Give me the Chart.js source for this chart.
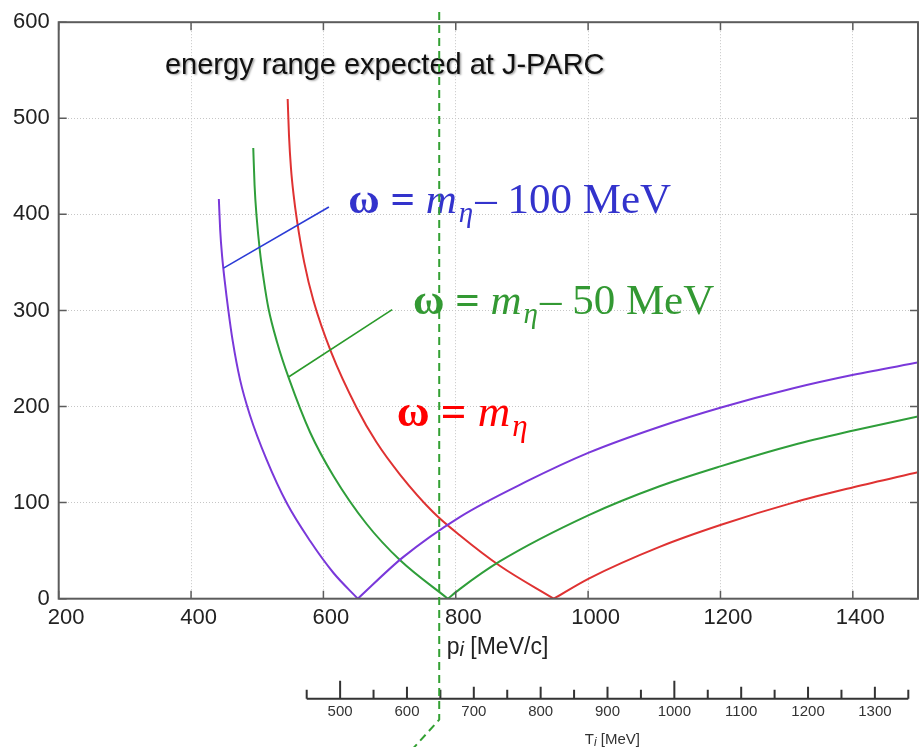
<!DOCTYPE html>
<html>
<head>
<meta charset="utf-8">
<script src="https://cdn.jsdelivr.net/npm/chart.js@4.4.1/dist/chart.umd.min.js"></script>
<style>
  html, body { margin: 0; padding: 0; background: #fff; }
  #wrap { width: 919px; height: 747px; }
</style>
</head>
<body>
<div id="wrap"><canvas id="chart"></canvas></div>
<script>
const xTicks = [200, 400, 600, 800, 1000, 1200, 1400];
const yTicks = [0, 100, 200, 300, 400, 500, 600];
const tTicks = [450, 500, 550, 600, 650, 700, 750, 800, 850, 900, 950, 1000, 1050, 1100, 1150, 1200, 1250, 1300, 1350];

// omega = m_eta - 100 MeV (purple)
const purpleLeftP = [442, 444, 447, 451, 456, 463, 474, 489, 514, 545, 580, 615, 652];
const purpleLeftQ = [416, 384, 356, 330, 302, 268, 228, 191, 145, 99, 60, 27, 0];
const purpleRightP = [652, 720, 806, 907, 1001, 1108, 1201, 1310, 1401, 1500];
const purpleRightQ = [0, 43, 85, 122, 152, 179, 199, 219, 233, 246];

// omega = m_eta - 50 MeV (green)
const greenLeftP = [494, 496, 499, 504, 510, 517, 530, 548, 580, 615, 665, 716, 788];
const greenLeftQ = [469, 430, 398, 362, 331, 302, 267, 229, 173, 128, 78, 40, 0];
const greenRightP = [788, 806, 867, 1001, 1108, 1201, 1310, 1401, 1500];
const greenRightQ = [0, 10, 39, 87, 117, 138, 160, 175, 190];

// omega = m_eta (red)
const redLeftP = [546, 548, 551, 555, 560, 571, 585, 612, 650, 680, 716, 766, 806, 867, 948];
const redLeftQ = [520, 482, 448, 420, 394, 350, 310, 256, 199, 163, 129, 90, 66, 34, 0];
const redRightP = [948, 1001, 1108, 1201, 1310, 1401, 1500];
const redRightQ = [0, 21, 54, 77, 100, 116, 132];

const jparcP = 775;   // p_i of the dashed J-PARC marker

const PURPLE = "#7a38da", GREEN = "#2f9e3a", RED = "#df3232";

function branch(ps, qs, color) {
    return {
        data: ps.map((p, i) => ({ x: p, y: qs[i] })),
        borderColor: color,
        borderWidth: 2,
        pointRadius: 0,
        cubicInterpolationMode: "monotone",
        fill: false
    };
}

function drawMath(ctx, x0, y0, size, color, tail) {
    ctx.fillStyle = color;
    ctx.textBaseline = "alphabetic";
    ctx.textAlign = "left";
    let cx = x0;
    ctx.font = `bold ${size}px "Liberation Serif"`;
    ctx.fillText("ω", cx, y0);
    cx += ctx.measureText("ω").width + size * 0.25;
    ctx.fillText("=", cx, y0);
    cx += ctx.measureText("=").width + size * 0.25;
    ctx.font = `italic ${size}px "Liberation Serif"`;
    ctx.fillText("m", cx, y0);
    cx += ctx.measureText("m").width + 2;
    ctx.font = `italic ${Math.round(size * 0.68)}px "Liberation Serif"`;
    ctx.fillText("η", cx, y0 + size * 0.22);
    cx += ctx.measureText("η").width + 2;
    if (tail) {
        ctx.font = `${size}px "Liberation Serif"`;
        ctx.fillText(tail, cx, y0);
    }
}

const overlay = {
    id: "overlay",
    afterDatasetsDraw(chart) {
        const { ctx, chartArea: a, scales: { x, y, t } } = chart;
        ctx.save();

        // frame and inward ticks
        ctx.strokeStyle = "#5c5c5c";
        ctx.lineWidth = 1.5;
        ctx.beginPath();
        xTicks.forEach(v => {
            const px = x.getPixelForValue(v);
            ctx.moveTo(px, a.top); ctx.lineTo(px, a.top + 8);
            ctx.moveTo(px, a.bottom); ctx.lineTo(px, a.bottom - 8);
        });
        yTicks.forEach(v => {
            const py = y.getPixelForValue(v);
            ctx.moveTo(a.left, py); ctx.lineTo(a.left + 8, py);
            ctx.moveTo(a.right - 1, py); ctx.lineTo(a.right - 9, py);
        });
        ctx.stroke();
        ctx.lineWidth = 2;
        ctx.strokeRect(a.left, a.top, a.right - a.left - 1, a.bottom - a.top);

        // title inside the plot
        ctx.save();
        ctx.font = '29px "Liberation Sans"';
        ctx.fillStyle = "#111";
        ctx.shadowColor = "rgba(0,0,0,0.35)";
        ctx.shadowOffsetX = 1.5;
        ctx.shadowOffsetY = 1.5;
        ctx.shadowBlur = 2;
        ctx.textBaseline = "alphabetic";
        ctx.fillText("energy range expected at J-PARC", x.getPixelForValue(360.6), y.getPixelForValue(546.3));
        ctx.restore();

        // leader lines
        ctx.lineWidth = 1.6;
        ctx.strokeStyle = "#2b3bd6";
        ctx.beginPath();
        ctx.moveTo(x.getPixelForValue(449), y.getPixelForValue(344));
        ctx.lineTo(x.getPixelForValue(608.3), y.getPixelForValue(407.6));
        ctx.stroke();
        ctx.strokeStyle = "#2a9a2a";
        ctx.beginPath();
        ctx.moveTo(x.getPixelForValue(547.9), y.getPixelForValue(231));
        ctx.lineTo(x.getPixelForValue(703.9), y.getPixelForValue(300.9));
        ctx.stroke();

        drawMath(ctx, x.getPixelForValue(637.6), y.getPixelForValue(401.4), 43, "#3333cc", "– 100 MeV");
        drawMath(ctx, x.getPixelForValue(735.4), y.getPixelForValue(296.8), 43, "#339933", "– 50 MeV");
        drawMath(ctx, x.getPixelForValue(710.7), y.getPixelForValue(179.6), 45, "#ff0000", "");

        // p_i axis title
        ctx.fillStyle = "#222";
        let cx = x.getPixelForValue(786.3);
        const py = a.bottom + 55;
        ctx.font = '23px "Liberation Sans"';
        ctx.fillText("p", cx, py);
        cx += ctx.measureText("p").width;
        ctx.font = 'italic 20px "Liberation Sans"';
        ctx.fillText("i", cx, py + 2);
        cx += ctx.measureText("i").width;
        ctx.font = '23px "Liberation Sans"';
        ctx.fillText(" [MeV/c]", cx, py);

        // T_i axis: baseline and upward ticks
        const base = t.top + 40;
        ctx.strokeStyle = "#333";
        ctx.lineWidth = 2;
        ctx.beginPath();
        ctx.moveTo(t.getPixelForValue(tTicks[0]), base);
        ctx.lineTo(t.getPixelForValue(tTicks[tTicks.length - 1]), base);
        tTicks.forEach(v => {
            const px = t.getPixelForValue(v);
            const len = v % 500 === 0 ? 18 : (v % 100 === 0 ? 12 : 9);
            ctx.moveTo(px, base); ctx.lineTo(px, base - len);
        });
        ctx.stroke();

        ctx.fillStyle = "#333";
        let tx = t.getPixelForValue(866);
        const ty = t.top + 85;
        ctx.font = '15px "Liberation Sans"';
        ctx.fillText("T", tx, ty);
        tx += ctx.measureText("T").width;
        ctx.font = 'italic 12px "Liberation Sans"';
        ctx.fillText("i", tx, ty + 2);
        tx += ctx.measureText("i").width;
        ctx.font = '15px "Liberation Sans"';
        ctx.fillText(" [MeV]", tx, ty);

        // dashed J-PARC marker
        const gx = x.getPixelForValue(jparcP);
        ctx.strokeStyle = "#33a033";
        ctx.lineWidth = 2;
        ctx.setLineDash([8, 5]);
        ctx.beginPath();
        ctx.moveTo(gx, 12);
        ctx.lineTo(gx, base + 21);
        ctx.lineTo(gx - 30, base + 54);
        ctx.stroke();

        ctx.restore();
    }
};

Chart.defaults.font.family = '"Liberation Sans", Arial, sans-serif';

const gridOpts = { color: "#c6c6c6", lineWidth: 1, drawTicks: false };
const borderOpts = { display: false, dash: [1, 2] };

new Chart(document.getElementById("chart"), {
    type: "line",
    data: {
        datasets: [
            branch(purpleLeftP, purpleLeftQ, PURPLE),
            branch(purpleRightP, purpleRightQ, PURPLE),
            branch(greenLeftP, greenLeftQ, GREEN),
            branch(greenRightP, greenRightQ, GREEN),
            branch(redLeftP, redLeftQ, RED),
            branch(redRightP, redRightQ, RED)
        ]
    },
    options: {
        responsive: true,
        maintainAspectRatio: false,
        animation: false,
        layout: { padding: { top: 21.7, right: 0, bottom: 0, left: 0 } },
        plugins: { legend: { display: false }, tooltip: { enabled: false } },
        scales: {
            x: {
                type: "linear", position: "bottom", min: 200, max: 1500,
                afterBuildTicks: s => { s.ticks = xTicks.map(v => ({ value: v })); },
                afterFit: s => { s.height = 60; s.paddingLeft = 0; s.paddingRight = 0; },
                grid: gridOpts, border: borderOpts,
                ticks: { font: { size: 22 }, color: "#222", padding: 6, labelOffset: 7.5, autoSkip: false, maxRotation: 0, callback: v => String(v) }
            },
            t: {
                type: "linear", position: "bottom", min: 79, max: 1366,
                afterBuildTicks: s => { s.ticks = tTicks.map(v => ({ value: v })); },
                afterFit: s => { s.height = 88.3; s.paddingLeft = 0; s.paddingRight = 0; },
                grid: { display: false, drawTicks: false }, border: { display: false },
                ticks: { font: { size: 15 }, color: "#333", padding: 44, autoSkip: false, maxRotation: 0, callback: v => (v % 100 === 0 ? String(v) : "") }
            },
            y: {
                type: "linear", min: 0, max: 600,
                afterBuildTicks: s => { s.ticks = yTicks.map(v => ({ value: v })); },
                afterFit: s => { s.width = 58.7; },
                grid: gridOpts, border: borderOpts,
                ticks: { font: { size: 22 }, color: "#222", padding: 9, callback: v => String(v) }
            }
        }
    },
    plugins: [overlay]
});
</script>
</body>
</html>
